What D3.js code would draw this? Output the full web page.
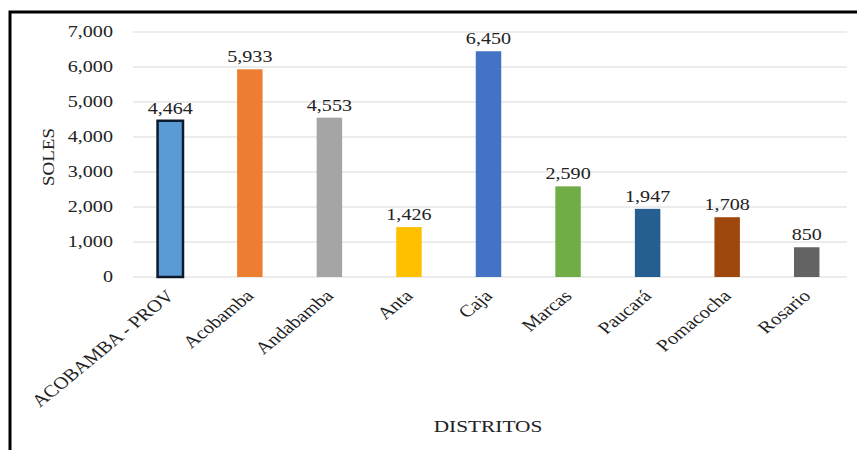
<!DOCTYPE html>
<html><head><meta charset="utf-8">
<script src="https://cdn.jsdelivr.net/npm/d3@7"></script>
<style>body{margin:0;background:#fff}svg{display:block}</style>
</head><body><svg id="c" width="857" height="450"></svg>
<script>
const categories = ["ACOBAMBA - PROV","Acobamba","Andabamba","Anta","Caja","Marcas","Paucará","Pomacocha","Rosario"];
const values = [4464,5933,4553,1426,6450,2590,1947,1708,850];
const colors = ["#5B9BD5","#ED7D31","#A5A5A5","#FFC000","#4472C4","#70AD47","#255E91","#9E480E","#636363"];
const yTicks = [0,1000,2000,3000,4000,5000,6000,7000];

const svg = d3.select("#c");
const font = "'Liberation Serif','Times New Roman',serif";
const SX = 1.22, FS = 16.5;
// frame
svg.append("rect").attr("x",10).attr("y",12).attr("width",860).attr("height",460)
  .attr("fill","#fff").attr("stroke","#000").attr("stroke-width",3);

const x = d3.scaleBand().domain(categories).range([130.5,846.5]).paddingInner(0.68).paddingOuter(0.34);
const y = d3.scaleLinear().domain([0,7000]).range([277,32]);

const g = svg.append("g");
g.selectAll("line.grid").data(yTicks).join("line").attr("class","grid")
  .attr("x1",133).attr("x2",847).attr("y1",d=>y(d)).attr("y2",d=>y(d))
  .attr("stroke","#d9d9d9").attr("stroke-width",1.2);

const yAxis = d3.axisLeft(y).tickValues(yTicks).tickFormat(d3.format(",")).tickSize(0).tickPadding(0);
const ya = svg.append("g").attr("transform","translate(113,0)").call(yAxis);
ya.select(".domain").remove();
ya.selectAll(".tick").each(function(d){
  d3.select(this).attr("transform",`translate(0,${y(d)}) scale(${SX},1)`);
});
ya.selectAll("text").attr("font-family",font).attr("font-size",FS).attr("fill","#222").attr("x",0);

g.selectAll("rect.bar").data(values).join("rect").attr("class","bar")
  .attr("x",(d,i)=>x(categories[i])).attr("width",x.bandwidth())
  .attr("y",d=>y(d)).attr("height",d=>y(0)-y(d))
  .attr("fill",(d,i)=>colors[i])
  .attr("stroke",(d,i)=>i===0?"#0d1a2b":"none").attr("stroke-width",2.5);

g.selectAll("text.val").data(values).join("text").attr("class","val")
  .attr("transform",(d,i)=>`translate(${x(categories[i])+x.bandwidth()/2},${y(d)-7}) scale(${SX},1)`)
  .attr("text-anchor","middle").attr("font-family",font).attr("font-size",FS).attr("fill","#222")
  .text(d=>d3.format(",")(d));

const xAxis = d3.axisBottom(x).tickSize(0).tickPadding(0);
const xa = svg.append("g").call(xAxis);
xa.select(".domain").remove();
xa.selectAll(".tick").attr("transform",d=>`translate(${x(d)+x.bandwidth()/2+5},297) scale(${SX},1) rotate(-45)`);
xa.selectAll("text").attr("font-family",font).attr("font-size",17).attr("fill","#222")
  .attr("text-anchor","end").attr("dy",null).attr("y",0).attr("x",0);

svg.append("text").attr("transform",`translate(488,432) scale(${SX},1)`).attr("text-anchor","middle")
  .attr("font-family",font).attr("font-size",17.5).attr("fill","#222").text("DISTRITOS");
svg.append("text").attr("transform","translate(54,157) rotate(-90) scale(1.15,1)").attr("text-anchor","middle")
  .attr("font-family",font).attr("font-size",16.5).attr("fill","#222").text("SOLES");
</script></body></html>
